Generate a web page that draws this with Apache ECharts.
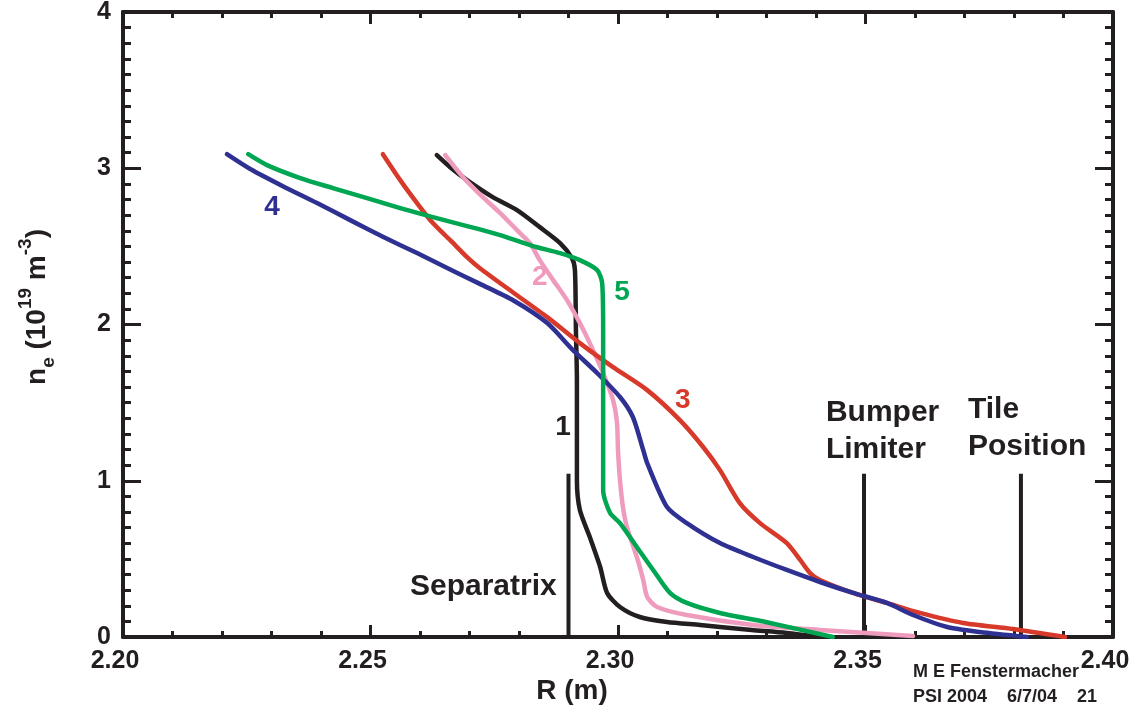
<!DOCTYPE html>
<html><head><meta charset="utf-8">
<script src="https://cdn.jsdelivr.net/npm/echarts@6/dist/echarts.min.js"></script>
<style>html,body{margin:0;padding:0;background:#fff}#c{width:1135px;height:713px}</style>
</head><body><div id="c"></div>
<script>
// ---------- DATA ----------
const xTickLabels = ['2.20', '2.25', '2.30', '2.35', '2.40'];
const yTickLabels = ['0', '1', '2', '3', '4'];

// Curve 1 (black)
const r1 = [2.2634, 2.2661, 2.2695, 2.2747, 2.2796, 2.2842, 2.2883, 2.2907, 2.2913, 2.2915, 2.2917, 2.2917, 2.2923, 2.2943, 2.2964, 2.2978, 2.3004, 2.3044, 2.3099, 2.3166, 2.3206, 2.3270, 2.3341, 2.3408];
const n1 = [3.084, 3.007, 2.924, 2.815, 2.732, 2.623, 2.521, 2.425, 2.348, 1.964, 1.644, 1.004, 0.813, 0.640, 0.448, 0.282, 0.192, 0.128, 0.096, 0.077, 0.064, 0.045, 0.026, 0.0];
// Curve 2 (pink)
const r2 = [2.2651, 2.2687, 2.2727, 2.2762, 2.2796, 2.2822, 2.2842, 2.2869, 2.2897, 2.2923, 2.2943, 2.2970, 2.2990, 2.2998, 2.3000, 2.3004, 2.3010, 2.3018, 2.3038, 2.3051, 2.3059, 2.3079, 2.3139, 2.3273, 2.3408, 2.3596];
const n2 = [3.084, 2.943, 2.815, 2.713, 2.604, 2.521, 2.412, 2.284, 2.156, 2.009, 1.881, 1.689, 1.516, 1.369, 1.196, 1.004, 0.832, 0.704, 0.512, 0.365, 0.256, 0.192, 0.141, 0.077, 0.045, 0.006];
// Curve 3 (red)
const r3 = [2.2525, 2.2560, 2.2594, 2.2626, 2.2661, 2.2695, 2.2721, 2.2788, 2.2857, 2.2923, 2.2990, 2.3059, 2.3125, 2.3172, 2.3206, 2.3246, 2.3287, 2.3341, 2.3368, 2.3388, 2.3408, 2.3475, 2.3543, 2.3610, 2.3697, 2.3798, 2.3903];
const n3 = [3.090, 2.924, 2.777, 2.649, 2.540, 2.431, 2.360, 2.205, 2.047, 1.881, 1.727, 1.580, 1.388, 1.216, 1.068, 0.857, 0.729, 0.601, 0.493, 0.409, 0.365, 0.282, 0.218, 0.154, 0.090, 0.051, 0.0];
// Curve 4 (blue)
const r4 = [2.2210, 2.2257, 2.2323, 2.2392, 2.2459, 2.2525, 2.2594, 2.2661, 2.2721, 2.2788, 2.2857, 2.2909, 2.2958, 2.3004, 2.3030, 2.3051, 2.3059, 2.3099, 2.3139, 2.3206, 2.3273, 2.3341, 2.3408, 2.3475, 2.3543, 2.3596, 2.3665, 2.3731, 2.3826];
const n4 = [3.090, 2.995, 2.885, 2.777, 2.668, 2.562, 2.457, 2.352, 2.260, 2.155, 2.009, 1.836, 1.689, 1.536, 1.408, 1.196, 1.113, 0.832, 0.729, 0.601, 0.512, 0.429, 0.352, 0.282, 0.218, 0.141, 0.064, 0.032, 0.0];
// Curve 5 (green)
const r5 = [2.2253, 2.2291, 2.2358, 2.2424, 2.2493, 2.2560, 2.2626, 2.2695, 2.2762, 2.2828, 2.2883, 2.2923, 2.2958, 2.2968, 2.2970, 2.2970, 2.2970, 2.2984, 2.3004, 2.3038, 2.3071, 2.3105, 2.3139, 2.3206, 2.3307, 2.3434];
const n5 = [3.090, 3.020, 2.937, 2.873, 2.809, 2.745, 2.687, 2.630, 2.572, 2.502, 2.457, 2.412, 2.348, 2.265, 1.964, 1.196, 0.940, 0.793, 0.729, 0.576, 0.429, 0.282, 0.218, 0.154, 0.090, 0.0];

// Vertical reference lines
const markerR = [2.2900, 2.3497, 2.3814];
const markerTop = [1.045, 1.045, 1.045];

// Text annotations (data coordinates)
const annoText = ['Separatrix', 'Bumper\nLimiter', 'Tile\nPosition'];
const annoR = [2.2728, 2.3420, 2.3707];
const annoN = [0.320, 1.315, 1.334];

// Curve number labels
const numText = ['1', '2', '3', '4', '5'];
const numR = [2.2889, 2.2842, 2.3131, 2.2301, 2.3008];
const numN = [1.344, 2.303, 1.516, 2.751, 2.207];

// ---------- STYLE ----------
const INK = '#231f20';
const FONT = "'Liberation Sans', Arial, Helvetica, sans-serif";
const curveColors = ['#231f20', '#ef9bbd', '#d7392a', '#2e3192', '#00a651'];
const curveR = [r1, r2, r3, r4, r5];
const curveN = [n1, n2, n3, n4, n5];
const drawOrder = [0, 1, 2, 3, 4];

function zip(a, b) { return a.map((v, i) => [v, b[i]]); }

function xAxisDef(pos, showLabel) {
  return {
    type: 'value', position: pos, min: 2.2, max: 2.4, interval: 0.05,
    axisLine: { show: true, onZero: false, lineStyle: { color: INK, width: 4 } },
    axisTick: { show: true, inside: true, length: 12, lineStyle: { color: INK, width: 3 } },
    minorTick: { show: true, splitNumber: 5, length: 6, lineStyle: { color: INK, width: 3 } },
    splitLine: { show: false },
    axisLabel: {
      show: showLabel, margin: 12, color: INK, fontFamily: FONT, fontWeight: 'bold', fontSize: 25,
      padding: [0, 16, 0, 0],
      formatter: v => xTickLabels[Math.round((v - 2.2) / 0.05)]
    }
  };
}
function yAxisDef(pos, showLabel) {
  return {
    type: 'value', position: pos, min: 0, max: 4, interval: 1,
    axisLine: { show: true, onZero: false, lineStyle: { color: INK, width: 4 } },
    axisTick: { show: true, inside: true, length: 18, lineStyle: { color: INK, width: 3 } },
    minorTick: { show: true, splitNumber: 10, length: 8, lineStyle: { color: INK, width: 3 } },
    splitLine: { show: false },
    axisLabel: {
      show: showLabel, margin: 12, color: INK, fontFamily: FONT, fontWeight: 'bold', fontSize: 25,
      formatter: v => yTickLabels[Math.round(v)]
    }
  };
}

const series = [];
drawOrder.forEach(i => {
  series.push({
    type: 'line', xAxisIndex: 0, yAxisIndex: 0,
    data: zip(curveR[i], curveN[i]),
    showSymbol: false, symbol: 'none', smooth: 0.25,
    lineStyle: { color: curveColors[i], width: 4.5, cap: 'round', join: 'round' },
    silent: true, animation: false, z: 3 + i
  });
});
markerR.forEach((r, i) => {
  series.push({
    type: 'line', data: [[r, 0], [r, markerTop[i]]], showSymbol: false, symbol: 'none',
    lineStyle: { color: INK, width: 4 }, silent: true, animation: false, z: 2
  });
});
series.push({
  type: 'scatter', symbolSize: 2, itemStyle: { color: 'rgba(0,0,0,0)', opacity: 1 }, silent: true, animation: false, z: 10,
  data: annoText.map((t, i) => ({
    value: [annoR[i], annoN[i]],
    label: {
      show: true, position: 'inside', formatter: t, color: INK, fontFamily: FONT, fontWeight: 'bold',
      fontSize: 30, lineHeight: 37, align: i === 0 ? 'center' : 'left', verticalAlign: 'middle', opacity: 1
    }
  }))
});
series.push({
  type: 'scatter', symbolSize: 2, itemStyle: { color: 'rgba(0,0,0,0)', opacity: 1 }, silent: true, animation: false, z: 10,
  data: numText.map((t, i) => ({
    value: [numR[i], numN[i]],
    label: {
      show: true, position: 'inside', formatter: t, color: curveColors[i], fontFamily: FONT,
      fontWeight: 'bold', fontSize: 28, align: 'center', verticalAlign: 'middle', opacity: 1
    }
  }))
});

const chart = echarts.init(document.getElementById('c'), null, { renderer: 'canvas' });
chart.setOption({
  animation: false,
  backgroundColor: '#ffffff',
  grid: { left: 123, right: 22, top: 12, bottom: 76, containLabel: false, outerBoundsMode: 'none' },
  xAxis: [xAxisDef('bottom', true), xAxisDef('top', false)],
  yAxis: [yAxisDef('left', true), yAxisDef('right', false)],
  series: series,
  graphic: [
    { type: 'text', x: 572, y: 691, style: { text: 'R (m)', fill: INK, font: 'bold 28px ' + FONT, align: 'center', verticalAlign: 'middle' } },
    {
      type: 'text', x: 37, y: 307, rotation: Math.PI / 2,
      style: {
        text: '{b|n}{s|e}{b| (10}{p|19}{b| m}{p|-3}{b|)}',
        align: 'center', verticalAlign: 'middle', fill: INK,
        rich: {
          b: { fontFamily: FONT, fontWeight: 'bold', fontSize: 28, lineHeight: 42, verticalAlign: 'middle', fill: INK },
          s: { fontFamily: FONT, fontWeight: 'bold', fontSize: 19, lineHeight: 20, verticalAlign: 'bottom', fill: INK },
          p: { fontFamily: FONT, fontWeight: 'bold', fontSize: 19, lineHeight: 20, verticalAlign: 'top', fill: INK }
        }
      }
    },
    { type: 'text', x: 913, y: 672, style: { text: 'M E Fenstermacher', fill: INK, font: 'bold 18px ' + FONT, align: 'left', verticalAlign: 'middle' } },
    { type: 'text', x: 913, y: 697, style: { text: 'PSI 2004    6/7/04    21', fill: INK, font: 'bold 18px ' + FONT, align: 'left', verticalAlign: 'middle' } }
  ]
});
</script>
</body></html>
